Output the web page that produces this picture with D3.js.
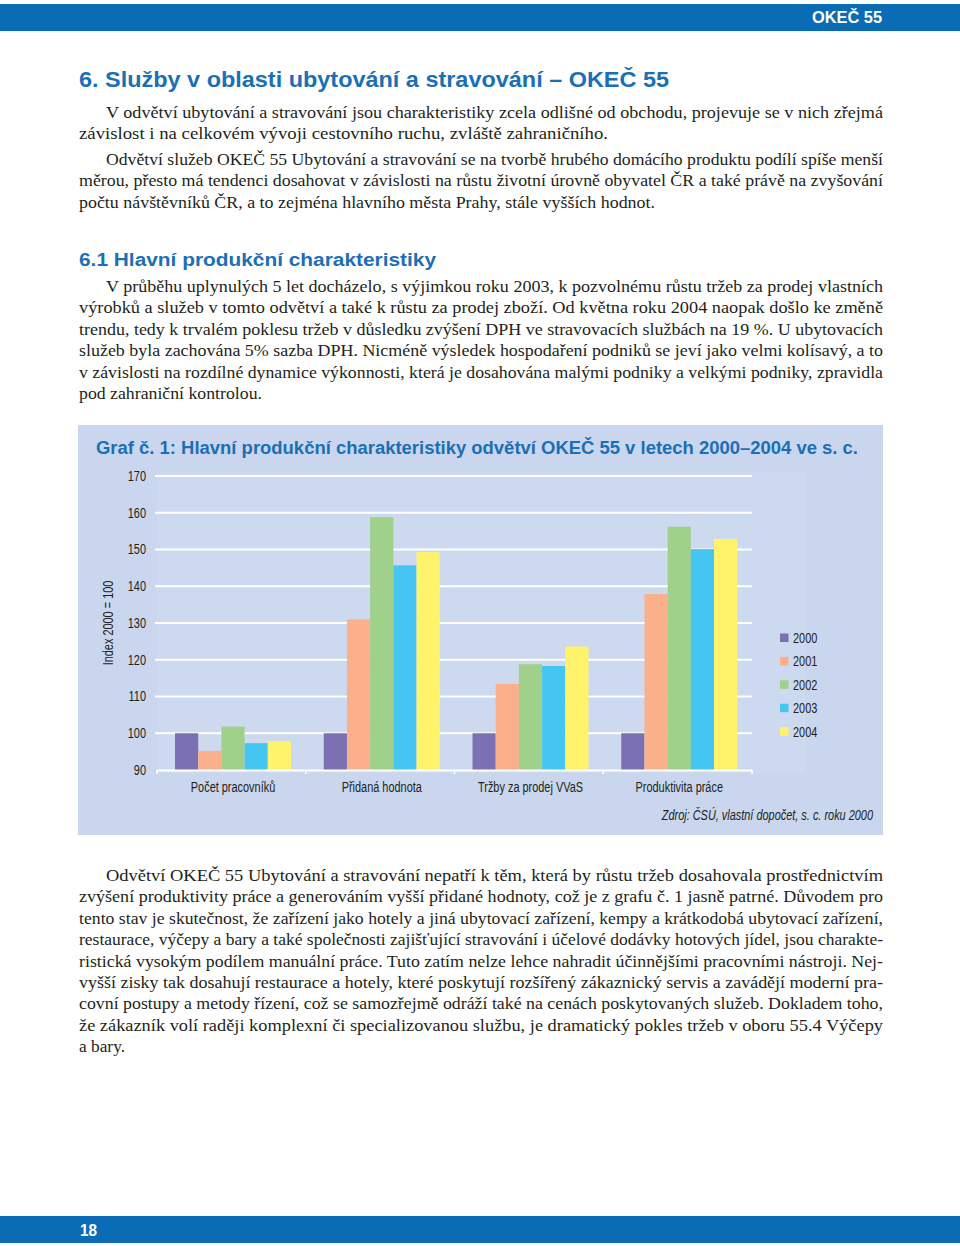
<!DOCTYPE html>
<html>
<head>
<meta charset="utf-8">
<script src="https://cdn.jsdelivr.net/npm/d3@7"></script>
<style>
  html, body { margin: 0; padding: 0; background: #fff; }
  svg { display: block; }
</style>
</head>
<body>
<div id="page"></div>
<script>
// ---------- DATA ----------
const categories = ["Počet pracovníků", "Přidaná hodnota", "Tržby za prodej VVaS", "Produktivita práce"];
const years = ["2000", "2001", "2002", "2003", "2004"];
const values2000 = [100, 100, 100, 100];
const values2001 = [95.2, 131.0, 113.4, 137.9];
const values2002 = [101.8, 158.8, 118.8, 156.2];
const values2003 = [97.3, 145.7, 118.3, 150.1];
const values2004 = [97.9, 149.3, 123.6, 152.9];
const seriesValues = [values2000, values2001, values2002, values2003, values2004];
const yTicks = [90, 100, 110, 120, 130, 140, 150, 160, 170];
const yearColors = ["#7a70b2", "#fbb08c", "#a0d18a", "#45c6f2", "#fff36c"];

const chartTitle = "Graf č. 1: Hlavní produkční charakteristiky odvětví OKEČ 55 v letech 2000–2004 ve s. c.";
const yAxisTitle = "Index 2000 = 100";
const sourceNote = "Zdroj: ČSÚ, vlastní dopočet, s. c. roku 2000";

const headerLabel = "OKEČ 55";
const pageNumber = "18";
const heading1 = "6. Služby v oblasti ubytování a stravování – OKEČ 55";
const heading2 = "6.1 Hlavní produkční charakteristiky";

// body text lines: [text, indent?, line end x]
const para1 = [
  ["V odvětví ubytování a stravování jsou charakteristiky zcela odlišné od obchodu, projevuje se v nich zřejmá", 1, 883],
  ["závislost i na celkovém vývoji cestovního ruchu, zvláště zahraničního.", 0, 608]
];
const para2 = [
  ["Odvětví služeb OKEČ 55 Ubytování a stravování se na tvorbě hrubého domácího produktu podílí spíše menší", 1, 883],
  ["měrou, přesto má tendenci dosahovat v závislosti na růstu životní úrovně obyvatel ČR a také právě na zvyšování", 0, 883],
  ["počtu návštěvníků ČR, a to zejména hlavního města Prahy, stále vyšších hodnot.", 0, 655]
];
const para3 = [
  ["V průběhu uplynulých 5 let docházelo, s výjimkou roku 2003, k pozvolnému růstu tržeb za prodej vlastních", 1, 883],
  ["výrobků a služeb v tomto odvětví a také k růstu za prodej zboží. Od května roku 2004 naopak došlo ke změně", 0, 883],
  ["trendu, tedy k trvalém poklesu tržeb v důsledku zvýšení DPH ve stravovacích službách na 19 %. U ubytovacích", 0, 883],
  ["služeb byla zachována 5% sazba DPH. Nicméně výsledek hospodaření podniků se jeví jako velmi kolísavý, a to", 0, 883],
  ["v závislosti na rozdílné dynamice výkonnosti, která je dosahována malými podniky a velkými podniky, zpravidla", 0, 883],
  ["pod zahraniční kontrolou.", 0, 262]
];
const para4 = [
  ["Odvětví OKEČ 55 Ubytování a stravování nepatří k těm, která by růstu tržeb dosahovala prostřednictvím", 1, 883],
  ["zvýšení produktivity práce a generováním vyšší přidané hodnoty, což je z grafu č. 1 jasně patrné. Důvodem pro", 0, 883],
  ["tento stav je skutečnost, že zařízení jako hotely a jiná ubytovací zařízení, kempy a krátkodobá ubytovací zařízení,", 0, 883],
  ["restaurace, výčepy a bary a také společnosti zajišťující stravování i účelové dodávky hotových jídel, jsou charakte-", 0, 883],
  ["ristická vysokým podílem manuální práce. Tuto zatím nelze lehce nahradit účinnějšími pracovními nástroji. Nej-", 0, 883],
  ["vyšší zisky tak dosahují restaurace a hotely, které poskytují rozšířený zákaznický servis a zavádějí moderní pra-", 0, 883],
  ["covní postupy a metody řízení, což se samozřejmě odráží také na cenách poskytovaných služeb. Dokladem toho,", 0, 883],
  ["že zákazník volí raději komplexní či specializovanou službu, je dramatický pokles tržeb v oboru 55.4 Výčepy", 0, 883],
  ["a bary.", 0, 125]
];

// ---------- LAYOUT ----------
const W = 960, H = 1246;
const BLUE = "#0a6cb5";
const TITLE_BLUE = "#1b6fb6";
const SERIF = "'Liberation Serif', 'Times New Roman', serif";
const SANS = "'Liberation Sans', Arial, sans-serif";
const TEXT = "#231f20";

const svg = d3.select("#page").append("svg").attr("width", W).attr("height", H);
svg.append("rect").attr("width", W).attr("height", H).attr("fill", "#fff");

// condense helper (emulates a condensed typeface)
function condense(sel, f) {
  sel.each(function () {
    const n = this.getComputedTextLength();
    d3.select(this).attr("textLength", n * f).attr("lengthAdjust", "spacingAndGlyphs");
  });
  return sel;
}

// header / footer bars
svg.append("rect").attr("x", 0).attr("y", 4).attr("width", W).attr("height", 27).attr("fill", BLUE);
svg.append("text").attr("x", 882).attr("y", 22.5).attr("text-anchor", "end")
  .attr("font-family", SANS).attr("font-weight", "bold").attr("font-size", 16).attr("fill", "#fff")
  .attr("textLength", 70).attr("lengthAdjust", "spacingAndGlyphs")
  .text(headerLabel);
svg.append("rect").attr("x", 0).attr("y", 1216).attr("width", W).attr("height", 27).attr("fill", BLUE);
svg.append("text").attr("x", 80).attr("y", 1235.5)
  .attr("font-family", SANS).attr("font-weight", "bold").attr("font-size", 16).attr("fill", "#fff")
  .attr("textLength", 17).attr("lengthAdjust", "spacingAndGlyphs")
  .text(pageNumber);

// headings
svg.append("text").attr("x", 79).attr("y", 87)
  .attr("font-family", SANS).attr("font-weight", "bold").attr("font-size", 22).attr("fill", TITLE_BLUE)
  .attr("textLength", 590).attr("lengthAdjust", "spacingAndGlyphs")
  .text(heading1);
svg.append("text").attr("x", 79).attr("y", 266)
  .attr("font-family", SANS).attr("font-weight", "bold").attr("font-size", 17.5).attr("fill", TITLE_BLUE)
  .attr("textLength", 357).attr("lengthAdjust", "spacingAndGlyphs")
  .text(heading2);

// body paragraphs
const LEFT = 79, INDENT = 106, LH = 21.4;
function drawPara(lines, y0) {
  const g = svg.append("g");
  lines.forEach((l, i) => {
    const x = l[1] ? INDENT : LEFT;
    g.append("text").attr("x", x).attr("y", y0 + i * LH)
      .attr("font-family", SERIF).attr("font-size", 17.5).attr("fill", TEXT)
      .attr("textLength", l[2] - x).attr("lengthAdjust", "spacingAndGlyphs")
      .text(l[0]);
  });
}
drawPara(para1, 118);
drawPara(para2, 165);
drawPara(para3, 292);
drawPara(para4, 881);

// ---------- CHART ----------
const box = { x: 78, y: 425, w: 805, h: 410 };
svg.append("rect").attr("x", box.x).attr("y", box.y).attr("width", box.w).attr("height", box.h).attr("fill", "#c9d6ed");
svg.append("rect").attr("x", 157).attr("y", 472).attr("width", 648).attr("height", 301).attr("fill", "#cdd9ef");

svg.append("text").attr("x", 96).attr("y", 454)
  .attr("font-family", SANS).attr("font-weight", "bold").attr("font-size", 17.5).attr("fill", TITLE_BLUE)
  .attr("textLength", 762).attr("lengthAdjust", "spacingAndGlyphs")
  .text(chartTitle);

const y = d3.scaleLinear().domain([90, 170]).range([770, 476]);
const x0 = d3.scaleBand().domain(categories).range([157, 752]).padding(0);
const x1 = d3.scaleBand().domain(years).range([18, 134]).padding(0);

const LBL = 14, CF = 0.78;

// gridlines
svg.append("g").selectAll("line").data(yTicks.filter(t => t > 90)).join("line")
  .attr("x1", 155).attr("x2", 752)
  .attr("y1", d => y(d)).attr("y2", d => y(d))
  .attr("stroke", "#fff").attr("stroke-width", 2.2);

// y tick labels
const yAxis = d3.axisLeft(y).tickValues(yTicks).tickSize(0).tickPadding(0);
const yG = svg.append("g").attr("transform", "translate(146,0)").call(yAxis);
yG.select(".domain").remove();
condense(yG.selectAll("text").attr("font-family", SANS).attr("font-size", LBL).attr("fill", TEXT), CF);

// y axis title
condense(svg.append("text").attr("transform", "translate(113,623) rotate(-90)")
  .attr("text-anchor", "middle").attr("font-family", SANS).attr("font-size", LBL).attr("fill", TEXT)
  .text(yAxisTitle), CF);

// bars
const groups = svg.append("g").selectAll("g").data(categories).join("g")
  .attr("transform", d => `translate(${x0(d)},0)`);
groups.selectAll("rect")
  .data((c, ci) => years.map((yr, yi) => ({ yr, yi, v: seriesValues[yi][ci] })))
  .join("rect")
  .attr("x", d => x1(d.yr)).attr("width", x1.bandwidth())
  .attr("y", d => y(d.v)).attr("height", d => y(90) - y(d.v))
  .attr("fill", d => yearColors[d.yi]);

// x axis
const xAxis = d3.axisBottom(x0).tickSize(0).tickPadding(0);
const xG = svg.append("g").attr("transform", `translate(0,${y(90)})`).call(xAxis);
xG.select(".domain").attr("stroke", "#fff").attr("stroke-width", 2.2);
xG.selectAll(".tick").attr("transform", d => `translate(${x0(d) + x1.range()[0] + (x1.range()[1] - x1.range()[0]) / 2},0)`);
condense(xG.selectAll("text").attr("dy", 0).attr("y", 22).attr("font-family", SANS).attr("font-size", LBL).attr("fill", TEXT), CF);
// separators between categories
const bounds = categories.map(c => x0(c)).concat([x0.range()[1]]);
xG.selectAll(".sep").data(bounds).join("line").attr("class", "sep")
  .attr("x1", d => d).attr("x2", d => d).attr("y1", 0).attr("y2", 4)
  .attr("stroke", "#fff").attr("stroke-width", 1.5);

// legend
const lg = svg.append("g").attr("transform", "translate(780,638)");
const li = lg.selectAll("g").data(years).join("g").attr("transform", (d, i) => `translate(0,${i * 23.4})`);
li.append("rect").attr("x", 0).attr("y", -4.5).attr("width", 8.5).attr("height", 8.5).attr("fill", (d, i) => yearColors[i]);
condense(li.append("text").attr("x", 13).attr("y", 5).attr("font-family", SANS).attr("font-size", LBL).attr("fill", TEXT).text(d => d), CF);

// source note
condense(svg.append("text").attr("x", 873).attr("y", 820).attr("text-anchor", "end")
  .attr("font-family", SANS).attr("font-style", "italic").attr("font-size", LBL).attr("fill", TEXT)
  .text(sourceNote), CF);
</script>
</body>
</html>
